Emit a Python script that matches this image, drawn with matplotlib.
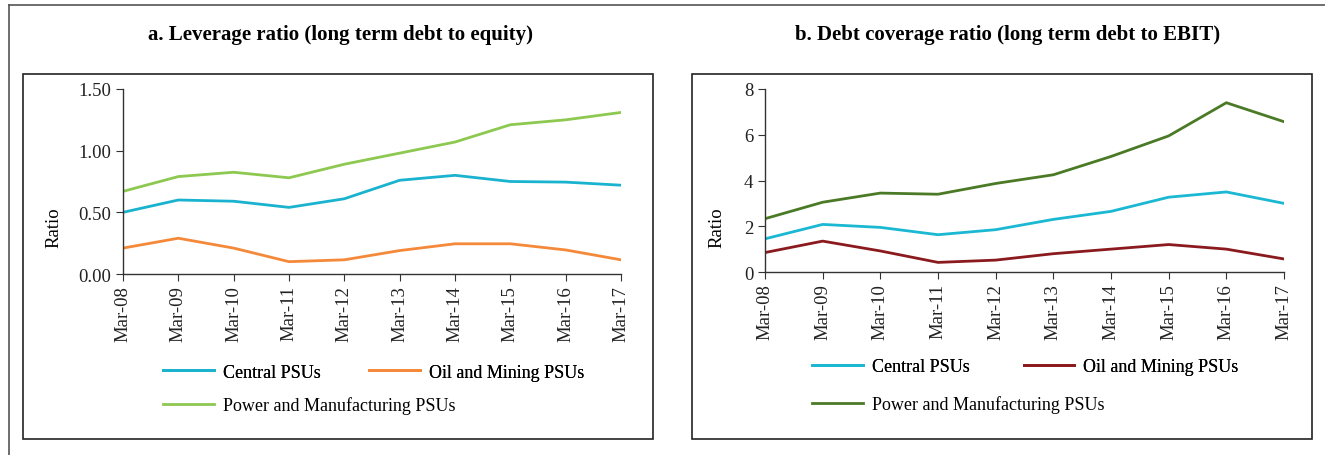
import matplotlib
matplotlib.use("Agg")
import matplotlib.pyplot as plt
from matplotlib.patches import Rectangle
from matplotlib.lines import Line2D

# data
years = ["Mar-08", "Mar-09", "Mar-10", "Mar-11", "Mar-12",
         "Mar-13", "Mar-14", "Mar-15", "Mar-16", "Mar-17"]
series_names = ["Central PSUs", "Oil and Mining PSUs", "Power and Manufacturing PSUs"]

lev_central = [0.50, 0.60, 0.59, 0.54, 0.61, 0.76, 0.80, 0.75, 0.745, 0.72]
lev_oil = [0.21, 0.29, 0.21, 0.10, 0.115, 0.19, 0.245, 0.245, 0.195, 0.115]
lev_power = [0.67, 0.79, 0.825, 0.78, 0.89, 0.98, 1.07, 1.21, 1.25, 1.31]

cov_central = [1.45, 2.08, 1.95, 1.63, 1.85, 2.30, 2.65, 3.27, 3.50, 3.00]
cov_oil = [0.85, 1.35, 0.92, 0.42, 0.52, 0.80, 1.00, 1.20, 1.00, 0.57]
cov_power = [2.33, 3.05, 3.45, 3.40, 3.87, 4.25, 5.05, 5.95, 7.40, 6.57]

W, H = 1325, 456
plt.rcParams['font.family'] = ['Liberation Serif', 'DejaVu Serif']

fig = plt.figure(figsize=(W / 100, H / 100), dpi=100)


def fx(px):
    return px / W


def fy(py):
    return 1 - py / H


# outer frame lines (top and left)
fig.add_artist(Line2D([fx(9), 1], [fy(6), fy(6)], color="#555555", lw=1.2))
fig.add_artist(Line2D([fx(9), fx(9)], [fy(6), 0], color="#555555", lw=1.2))


def panel(box, axpos, title, title_x, data, colors, yticks, ylabels, ylab_x, leg_pos, colsp):
    bx0, by0, bx1, by1 = box
    fig.add_artist(Rectangle((fx(bx0), fy(by1)), fx(bx1 - bx0), (by1 - by0) / H,
                             fill=False, edgecolor="#222222", lw=1.2))
    fig.text(fx(title_x), fy(35), title, ha="center", va="center",
             fontsize=15, fontweight="bold")
    x0, x1, ytop, ybot = axpos
    ax = fig.add_axes([fx(x0), fy(ybot), fx(x1 - x0), (ybot - ytop) / H])
    xs = range(len(years))
    handles = []
    for vals, c, name in zip(data, colors, series_names):
        h, = ax.plot(xs, vals, color=c, lw=2.0, label=name)
        handles.append(h)
    ax.set_xlim(0, len(years) - 1)
    ax.set_ylim(yticks[0], yticks[-1])
    ax.set_xticks(list(xs))
    ax.set_xticklabels(years, rotation=90, fontsize=13.5)
    ax.set_yticks(yticks)
    ax.set_yticklabels(ylabels, fontsize=13.5)
    for s in ["top", "right"]:
        ax.spines[s].set_visible(False)
    for s in ["left", "bottom"]:
        ax.spines[s].set_color("#333333")
        ax.spines[s].set_linewidth(1.0)
    ax.tick_params(direction="out", length=5, color="#333333", labelcolor="#222222")
    ax.tick_params(axis="x", pad=3)
    ax.set_ylabel("Ratio", fontsize=13.5)
    ax.yaxis.set_label_coords(fx(ylab_x), 0.5, transform=fig.transFigure)

    lx, ly1, ly2 = leg_pos
    leg1 = fig.legend(handles[:2], series_names[:2], ncol=2, loc="center left",
                      bbox_to_anchor=(fx(lx), fy(ly1)), frameon=False,
                      fontsize=13, handlelength=2.8, handletextpad=0.5,
                      columnspacing=colsp, borderaxespad=0, borderpad=0)
    fig.add_artist(leg1)
    fig.legend(handles[2:], series_names[2:], loc="center left",
               bbox_to_anchor=(fx(lx), fy(ly2)), frameon=False,
               fontsize=13, handlelength=2.8, handletextpad=0.5,
               borderaxespad=0, borderpad=0)
    return ax


panel((23, 75, 653, 440), (123, 621, 90, 275),
      "a. Leverage ratio (long term debt to equity)", 340,
      [lev_central, lev_oil, lev_power],
      ["#1ab3cf", "#f5893a", "#8dc850"],
      [0, 0.5, 1.0, 1.5], ["0.00", "0.50", "1.00", "1.50"], 62,
      (163, 373, 406), 2.7)

panel((692, 75, 1312, 440), (765, 1284, 90, 273),
      "b. Debt coverage ratio (long term debt to EBIT)", 1008,
      [cov_central, cov_oil, cov_power],
      ["#1ab8d2", "#8b1a1e", "#4b7a26"],
      [0, 2, 4, 6, 8], ["0", "2", "4", "6", "8"], 725,
      (812, 368, 405), 3.0)

fig.savefig("out.png", dpi=100)
